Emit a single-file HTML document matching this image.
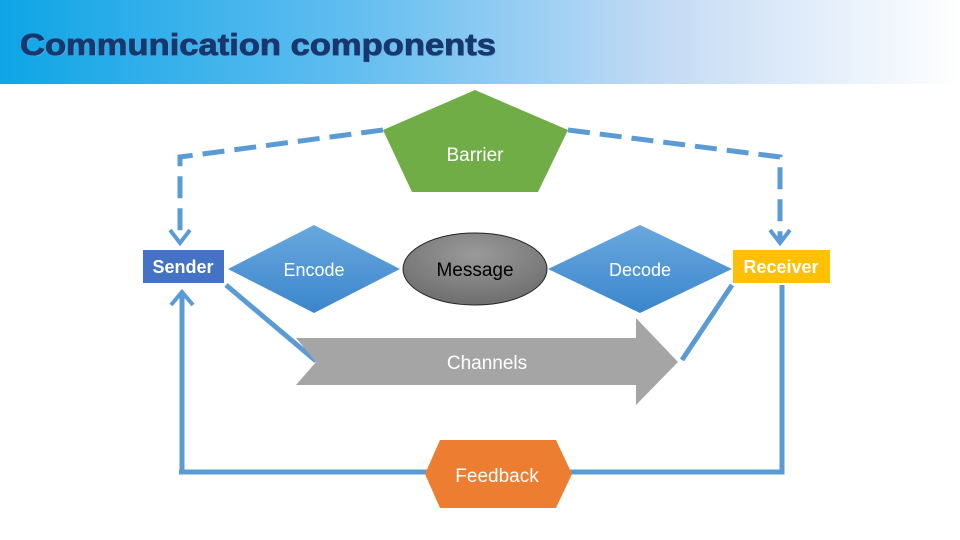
<!DOCTYPE html>
<html><head><meta charset="utf-8"><style>
body{margin:0;width:960px;height:540px;overflow:hidden;background:#fff}
svg{display:block}
text{font-family:"Liberation Sans",sans-serif}
</style></head><body>
<svg width="960" height="540" viewBox="0 0 960 540">
<defs>
<linearGradient id="tb" x1="0" x2="1" y1="0" y2="0">
<stop offset="0" stop-color="#0ea5e6"/><stop offset="0.35" stop-color="#5dbcf0"/><stop offset="0.7" stop-color="#c6dcf5"/><stop offset="1" stop-color="#ffffff"/>
</linearGradient>
<linearGradient id="dg" x1="0" x2="0" y1="0" y2="1"><stop offset="0" stop-color="#6aa8de"/><stop offset="1" stop-color="#3a86cc"/></linearGradient>
<radialGradient id="eg" cx="0.5" cy="0.3" r="0.7"><stop offset="0" stop-color="#9a9a9a"/><stop offset="1" stop-color="#6e6e6e"/></radialGradient>
</defs>
<rect x="0" y="0" width="960" height="84" fill="url(#tb)"/>
<text x="21" y="56" font-size="31" font-weight="bold" fill="#6fa7d6" textLength="476" lengthAdjust="spacingAndGlyphs">Communication components</text>
<text x="20" y="55" font-size="31" font-weight="bold" fill="#17386f" stroke="#17386f" stroke-width="0.8" textLength="476" lengthAdjust="spacingAndGlyphs">Communication components</text>

<g stroke="#5b9bd5" stroke-width="5" fill="none">
<path d="M383 130 L180 157 L180 240" stroke-dasharray="22 10"/>
<path d="M568 130 L780 157 L780 240" stroke-dasharray="22 10"/>
<path d="M170 230 L180 243 L190 230" stroke-width="4"/>
<path d="M770 230 L780 243 L790 230" stroke-width="4"/>
<path d="M182 470 L182 292"/>
<path d="M171 305 L182 292 L193 305" stroke-width="4"/>
<path d="M179 472 L430 472"/>
<path d="M570 472 L782 472 L782 285"/>
<path d="M226 285 L316 361"/>
<path d="M732 285 L682 360"/>
</g>

<polygon points="475,90 568,130 538,192 412,192 383,130" fill="#70ad47"/>
<text x="475" y="161" font-size="19" fill="#fff" text-anchor="middle">Barrier</text>

<rect x="143" y="250" width="81" height="33" fill="#4472c4"/>
<text x="183" y="273" font-size="18" font-weight="bold" fill="#fff" text-anchor="middle">Sender</text>
<rect x="733" y="250" width="97" height="33" fill="#ffc000"/>
<text x="781" y="273" font-size="18" font-weight="bold" fill="#fff" text-anchor="middle">Receiver</text>

<polygon points="228,269 314,225 400,269 314,313" fill="url(#dg)"/>
<text x="314" y="276" font-size="18" fill="#fff" text-anchor="middle">Encode</text>
<polygon points="548,269 640,225 732,269 640,313" fill="url(#dg)"/>
<text x="640" y="276" font-size="18" fill="#fff" text-anchor="middle">Decode</text>

<ellipse cx="475" cy="269" rx="72" ry="36" fill="url(#eg)" stroke="#222" stroke-width="1"/>
<text x="475" y="276" font-size="19" fill="#000" text-anchor="middle">Message</text>

<polygon points="296,338 636,338 636,318 678,362 636,405 636,385 296,385 316,362" fill="#a5a5a5"/>
<text x="487" y="369" font-size="19" fill="#fff" text-anchor="middle">Channels</text>

<polygon points="425,474 440,440 556,440 572,474 556,508 440,508" fill="#ed7d31"/>
<text x="497" y="482" font-size="19" fill="#fff" text-anchor="middle">Feedback</text>
</svg>
</body></html>
